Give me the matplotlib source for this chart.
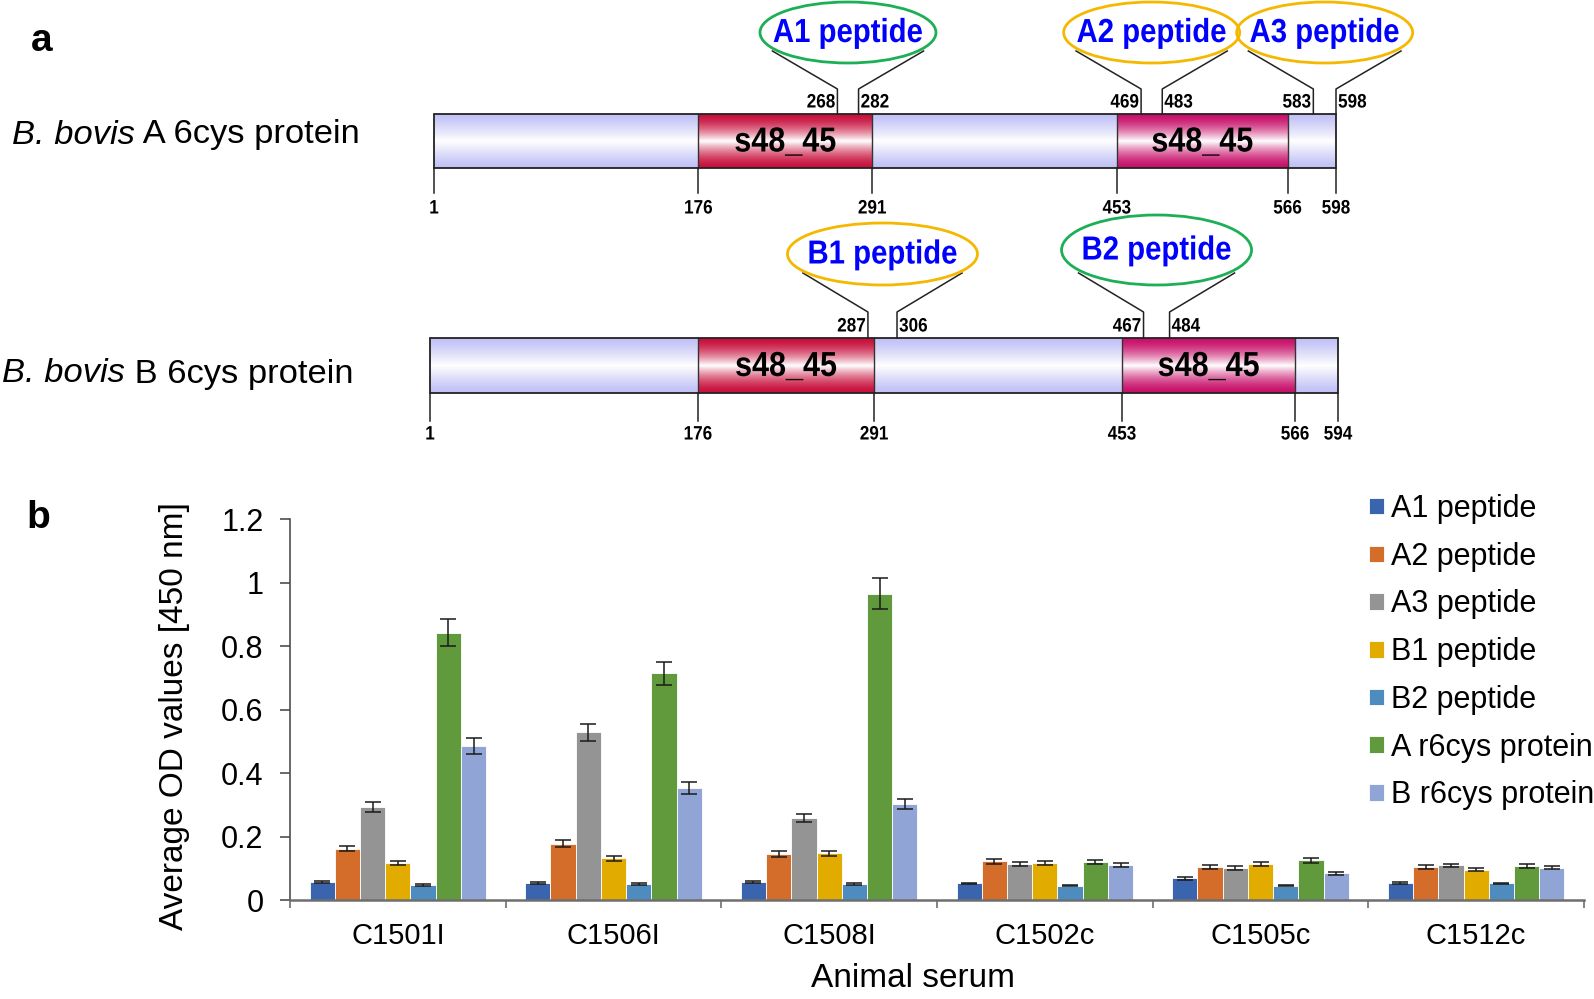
import matplotlib.pyplot as plt
import numpy as np
from matplotlib.patches import Ellipse, Rectangle
from matplotlib.colors import to_rgb
from matplotlib.patheffects import AbstractPathEffect
from matplotlib.transforms import Affine2D

plt.rcParams['font.family'] = ['Liberation Sans', 'DejaVu Sans']

# ---- panel a: protein maps ----
species = "B. bovis"
protein_labels = [" A 6cys protein", " B 6cys protein"]
protein_len = [598, 594]
domain_starts = [[176, 453], [176, 453]]
domain_ends = [[291, 566], [291, 566]]
domain_name = "s48_45"
peptide_names = [["A1 peptide", "A2 peptide", "A3 peptide"], ["B1 peptide", "B2 peptide"]]
peptide_starts = [[268, 469, 583], [287, 467]]
peptide_ends = [[282, 483, 598], [306, 484]]
position_ticks = [[1, 176, 291, 453, 566, 598], [1, 176, 291, 453, 566, 594]]

# ---- panel b: ELISA ----
sera = ["C1501I", "C1506I", "C1508I", "C1502c", "C1505c", "C1512c"]
antigens = ["A1 peptide", "A2 peptide", "A3 peptide", "B1 peptide", "B2 peptide",
            "A r6cys protein", "B r6cys protein"]
od_a1 = [0.058, 0.053, 0.056, 0.053, 0.068, 0.055]
od_a2 = [0.162, 0.178, 0.146, 0.122, 0.105, 0.104]
od_a3 = [0.294, 0.528, 0.258, 0.113, 0.102, 0.109]
od_b1 = [0.116, 0.131, 0.147, 0.117, 0.113, 0.096]
od_b2 = [0.047, 0.050, 0.051, 0.045, 0.045, 0.053]
od_ar6 = [0.843, 0.715, 0.966, 0.120, 0.125, 0.108]
od_br6 = [0.486, 0.352, 0.303, 0.111, 0.084, 0.102]
err_a1 = [0.003, 0.003, 0.003, 0.002, 0.004, 0.003]
err_a2 = [0.009, 0.010, 0.009, 0.007, 0.006, 0.006]
err_a3 = [0.016, 0.027, 0.013, 0.007, 0.006, 0.006]
err_b1 = [0.006, 0.008, 0.009, 0.007, 0.006, 0.005]
err_b2 = [0.002, 0.003, 0.003, 0.002, 0.002, 0.002]
err_ar6 = [0.043, 0.036, 0.049, 0.007, 0.007, 0.006]
err_br6 = [0.025, 0.019, 0.016, 0.006, 0.004, 0.005]
yticks = [0, 0.2, 0.4, 0.6, 0.8, 1, 1.2]
ytick_labels = ["0", "0.2", "0.4", "0.6", "0.8", "1", "1.2"]

values = [od_a1, od_a2, od_a3, od_b1, od_b2, od_ar6, od_br6]
errors = [err_a1, err_a2, err_a3, err_b1, err_b2, err_ar6, err_br6]
bar_colors = ['#3A64AE', '#D46C2A', '#949494', '#E2AB00', '#4E8BBF', '#619A3C', '#90A5D5']


class Narrow(AbstractPathEffect):
    """Squeeze text horizontally (no narrow font installed)."""

    def __init__(self, sx=0.88, anchor='center'):
        super().__init__()
        self.sx = sx
        self.anchor = anchor

    def draw_path(self, renderer, gc, tpath, affine, rgbFace=None):
        ext = tpath.get_extents()
        cx = {'center': (ext.x0 + ext.x1) / 2, 'left': ext.x0, 'right': ext.x1}[self.anchor]
        aff = Affine2D().translate(-cx, 0).scale(self.sx, 1).translate(cx, 0) + affine
        renderer.draw_path(gc, tpath, aff, rgbFace)


W, H = 1594, 999
fig = plt.figure(figsize=(W / 100, H / 100), dpi=100)

# overlay axes in pixel coordinates for the schematic
ax0 = fig.add_axes([0, 0, 1, 1])
ax0.set_xlim(0, W)
ax0.set_ylim(H, 0)
ax0.axis('off')


def vgrad(ax, x0, x1, y0, y1, color, power):
    """Vertical gradient: colour at top and bottom, white in the middle."""
    t = np.linspace(0, 1, 80)
    w = (1 - np.abs(2 * t - 1)) ** power
    c = np.array(to_rgb(color))
    rgb = c[None, :] * (1 - w[:, None]) + w[:, None]
    img = np.repeat(rgb[:, None, :], 2, axis=1)
    ax.imshow(img, extent=(x0, x1, y1, y0), aspect='auto',
              interpolation='bilinear', zorder=1)


def ntext(x, y, s, size, ha='center', **kw):
    ax0.text(x, y, s, fontsize=size, weight='bold', ha=ha, va='center',
             path_effects=[Narrow(0.88, ha)], **kw)


# layout of the two protein rows (pixels)
rows = [
    dict(left=434, right=1336, top=114, bottom=168, tick_bot=193, tick_lab=209,
         bend=89, pep_top=51, num_y=103, ell_y=[32.5, 32.5, 32.5], ell_h=[61, 61, 61],
         ell_w=[176, 176, 176], ell_c=['#1DAF55', '#F5B800', '#F5B800'],
         lab_x=12, lab_y=135),
    dict(left=430, right=1338, top=338, bottom=393, tick_bot=421, tick_lab=435,
         bend=312, pep_top=273, num_y=327, ell_y=[254, 250], ell_h=[62, 70],
         ell_w=[190, 190], ell_c=['#F5B800', '#1DAF55'],
         lab_x=2, lab_y=374),
]
domain_colors = ['#C8103C', '#C8106A']

for p, row in enumerate(rows):
    L, R, T, B = row['left'], row['right'], row['top'], row['bottom']

    def rx(r, L=L, R=R, n=protein_len[p]):
        return L + (r - 1) * (R - L) / (n - 1)

    vgrad(ax0, L, R, T, B, '#C0C0F6', 1.2)
    for d, (ds, de) in enumerate(zip(domain_starts[p], domain_ends[p])):
        vgrad(ax0, rx(ds), rx(de), T, B, domain_colors[d], 1.6)
        ax0.plot([rx(ds), rx(ds)], [T, B], color='#333333', lw=1, zorder=3)
        ax0.plot([rx(de), rx(de)], [T, B], color='#333333', lw=1, zorder=3)
        ntext((rx(ds) + rx(de)) / 2, (T + B) / 2 + 1, domain_name, 25, zorder=4)
    ax0.add_patch(Rectangle((L, T), R - L, B - T, fill=False, ec='#222222', lw=1.3, zorder=3))
    ax0.set_xlim(0, W)
    ax0.set_ylim(H, 0)

    for pos in position_ticks[p]:
        ax0.plot([rx(pos), rx(pos)], [B, row['tick_bot']], color='#222222', lw=1.1, zorder=3)
        ntext(rx(pos), row['tick_lab'], str(pos), 14)

    for k, (name, ps, pe) in enumerate(zip(peptide_names[p], peptide_starts[p], peptide_ends[p])):
        xs, xe = rx(ps), rx(pe)
        ax0.plot([xs - 65, xs, xs], [row['pep_top'], row['bend'], T], color='#222222', lw=1.1, zorder=3)
        ax0.plot([xe + 65, xe, xe], [row['pep_top'], row['bend'], T], color='#222222', lw=1.1, zorder=3)
        ntext(xs - 2, row['num_y'], str(ps), 14, ha='right')
        ntext(xe + 2, row['num_y'], str(pe), 14, ha='left')
        cx = (xs + xe) / 2
        ax0.add_patch(Ellipse((cx, row['ell_y'][k]), row['ell_w'][k], row['ell_h'][k],
                              fill=False, ec=row['ell_c'][k], lw=2, zorder=3))
        ntext(cx, row['ell_y'][k] + 1, name, 24, color='#0000FF', zorder=4)

    # italic species name followed by the upright rest of the label
    sp = ax0.text(row['lab_x'], row['lab_y'], species, fontsize=24.8, style='italic',
                  ha='left', va='center')
    ax0.annotate(protein_labels[p], xy=(1, 0), xycoords=sp, fontsize=24.8,
                 ha='left', va='bottom')

ax0.text(31, 41, "a", fontsize=28, weight='bold', ha='left', va='center')
ax0.text(26, 518, "b", fontsize=28, weight='bold', ha='left', va='center')

# ---- bar chart ----
ax = fig.add_axes([290 / W, (H - 900) / H, 1294 / W, 380.7 / H])
ax.set_facecolor('none')
x = np.arange(len(sera))
bw = 0.117
for i, (name, vals, errs, col) in enumerate(zip(antigens, values, errors, bar_colors)):
    ax.bar(x + (i - 3) * bw, vals, bw, yerr=errs, color=col, edgecolor='white',
           linewidth=0.6, label=name, zorder=2,
           error_kw=dict(ecolor='#1a1a1a', elinewidth=1.1, capsize=5.5, capthick=1.1))

ax.set_xlim(-0.5, len(sera) - 0.5)
ax.set_ylim(0, 1.2)
ax.set_yticks(yticks)
ax.set_yticklabels(ytick_labels, fontsize=22)
ax.set_xticks(x)
ax.set_xticklabels(sera, fontsize=21)
ax.set_xticks(np.arange(len(sera) + 1) - 0.5, minor=True)
ax.tick_params(axis='x', which='major', length=0, pad=16)
ax.tick_params(axis='x', which='minor', length=6, width=1.2, color='#6E6E6E')
ax.tick_params(axis='y', length=7, width=1.1, color='#404040', pad=12)
ax.spines['top'].set_visible(False)
ax.spines['right'].set_visible(False)
ax.spines['bottom'].set_color('#6E6E6E')
ax.spines['bottom'].set_linewidth(1.8)
ax.spines['left'].set_color('#404040')
ax.spines['left'].set_linewidth(1.1)

ax.set_ylabel("Average OD values [450 nm]", fontsize=24, va='center', ha='center')
ax.yaxis.set_label_coords(-0.0895, 0.482)
ax.set_xlabel("Animal serum", fontsize=24, va='center', ha='center')
ax.xaxis.set_label_coords(0.4815, -0.205)

ax.legend(loc='upper left', bbox_to_anchor=(1369 / W, 1 - 494 / H),
          bbox_transform=fig.transFigure, frameon=False, fontsize=22,
          borderpad=0, borderaxespad=0, handlelength=0.49, handleheight=0.46,
          handletextpad=0.22, labelspacing=0.58)

fig.savefig("out.png", dpi=100)
